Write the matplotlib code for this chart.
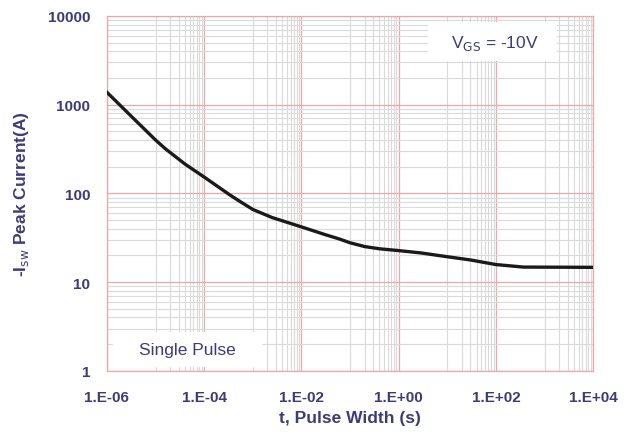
import numpy as np
import matplotlib.pyplot as plt
from matplotlib.patches import Rectangle
from matplotlib.ticker import FixedLocator, NullFormatter

plt.rcParams['font.family'] = ['Liberation Sans', 'DejaVu Sans']

# pulse width (s) and peak current (A)
pulse_width = [1e-6, 3.3e-6, 1e-5, 1.6e-5, 4e-5, 1e-4, 3.3e-4, 5.3e-4, 1e-3, 2.5e-3,
               1e-2, 3e-2, 6e-2, 1e-1, 2e-1, 4e-1, 1e0, 3e0, 7e0, 3e1, 1e2, 3.65e2, 1e4]
peak_current = [1380, 725, 400, 318, 215, 153, 97, 82, 66, 53.5,
                42, 34.5, 30.7, 27.8, 25.2, 23.8, 22.7, 21.3, 19.9, 17.8, 15.8, 14.8, 14.7]

x_ticks = [1e-6, 1e-4, 1e-2, 1e0, 1e2, 1e4]
x_ticklabels = ["1.E-06", "1.E-04", "1.E-02", "1.E+00", "1.E+02", "1.E+04"]
y_ticks = [1, 10, 100, 1000, 10000]
y_ticklabels = ["1", "10", "100", "1000", "10000"]

txt_color = "#3c3c78"
major_c = "#e9a9a9"
minor_c = "#dadada"

fig = plt.figure(figsize=(6.29, 4.35), dpi=100)
ax = fig.add_axes([0.170, 0.145, 0.773, 0.816])

ax.set_xscale('log')
ax.set_yscale('log')
ax.set_xlim(1e-6, 1e4)
ax.set_ylim(1, 10000)

# excel style base-100 minor lines on x (10..90 x 100^k)
x_minor = [m * 10 * t for t in x_ticks[:-1] for m in range(1, 10)]
ax.xaxis.set_major_locator(FixedLocator(x_ticks))
ax.xaxis.set_minor_locator(FixedLocator(x_minor))
ax.set_xticklabels(x_ticklabels)
ax.xaxis.set_minor_formatter(NullFormatter())
y_minor = [m * t for t in y_ticks[:-1] for m in range(2, 10)]
ax.yaxis.set_major_locator(FixedLocator(y_ticks))
ax.yaxis.set_minor_locator(FixedLocator(y_minor))
ax.set_yticklabels(y_ticklabels)
ax.yaxis.set_minor_formatter(NullFormatter())

ax.grid(which='minor', color=minor_c, linewidth=0.8, zorder=0)
ax.grid(which='major', color=major_c, linewidth=0.9, zorder=1)
ax.set_axisbelow(True)
for s in ax.spines.values():
    s.set_color(major_c)
    s.set_linewidth(0.9)
ax.tick_params(which='both', length=0, colors=txt_color, labelsize=11)
ax.tick_params(axis='x', pad=14)
ax.tick_params(axis='y', pad=12)
for lab in ax.get_xticklabels() + ax.get_yticklabels():
    lab.set_fontweight('bold')

ax.plot(pulse_width, peak_current, color='#1a1a1a', linewidth=2.4,
        solid_joinstyle='round', zorder=3)

ax.set_xlabel("t, Pulse Width (s)", fontsize=12.5, fontweight='bold', color=txt_color, labelpad=4)
ax.set_ylabel("-I$_{\\mathrm{sw}}$ Peak Current(A)", fontsize=12.5, fontweight='bold',
              color=txt_color, labelpad=12)

# white label boxes
ax.add_patch(Rectangle((0.660, 0.873), 0.266, 0.110, transform=ax.transAxes,
                       facecolor='white', edgecolor='none', zorder=4))
ax.add_patch(Rectangle((0.012, 0.011), 0.307, 0.099, transform=ax.transAxes,
                       facecolor='white', edgecolor='none', zorder=4))
ax.text(0.798, 0.924, "V$_{\\mathrm{GS}}$ = -10V", transform=ax.transAxes, ha='center', va='center',
        fontsize=12.5, color=txt_color, zorder=5)
ax.text(0.165, 0.059, "Single Pulse", transform=ax.transAxes, ha='center', va='center',
        fontsize=12.5, color=txt_color, zorder=5)

fig.savefig("out.png", dpi=100)
